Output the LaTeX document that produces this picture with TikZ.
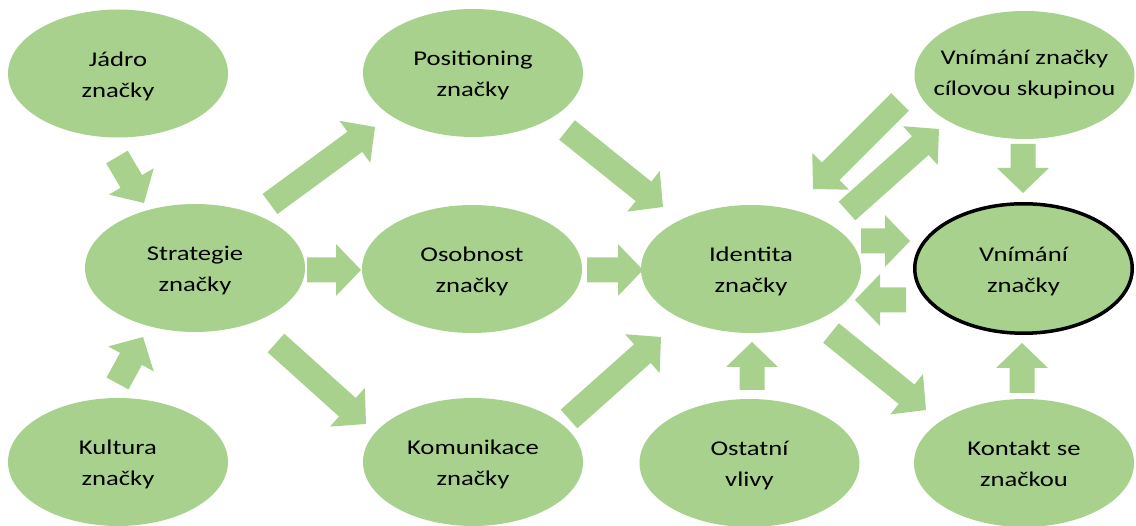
\documentclass[tikz,border=0pt]{standalone}
\usepackage{fontspec}
\setmainfont{Carlito}[FakeStretch=1.27]
\usetikzlibrary{shapes.geometric,calc}
\definecolor{leaf}{HTML}{A9D18E}

% two centred lines with equal struts
\newcommand\twolines[2]{\strut#1\\\strut#2}

% flat block arrow from #1 to #2 (shaft half width 12.5, head half width 26, head length 25)
\newcommand\blockarrow[2]{%
  \coordinate (ba-h) at ($(#2)!25pt!(#1)$);
  \fill[arrowfill] ($(#1)!12.5pt!90:(#2)$) -- ($(ba-h)!12.5pt!-90:(#1)$)
    -- ($(ba-h)!26pt!-90:(#1)$) -- (#2) -- ($(ba-h)!26pt!90:(#1)$)
    -- ($(ba-h)!12.5pt!90:(#1)$) -- ($(#1)!12.5pt!-90:(#2)$) -- cycle;}

\tikzset{
  blob/.style={ellipse, fill=leaf, minimum width=220pt, minimum height=128pt, inner sep=0pt},
  keyblob/.style={ellipse, fill=leaf, draw=black, line width=3.5pt,
    minimum width=217.5pt, minimum height=129.5pt, inner sep=0pt},
  lbl/.style={font=\fontsize{21}{31}\selectfont, align=center, text=black, inner sep=0pt},
  arrowfill/.style={fill=leaf},
}

\begin{document}
\begin{tikzpicture}[x=1pt, y=-1pt]
\useasboundingbox (0,0) rectangle (1136,526);

% ellipses
\node[blob] (jadro) at (118,73.5) {};
\node[blob] (positioning) at (473,73) {};
\node[blob] (cilova) at (1024.5,75) {};
\node[blob] (strategie) at (195,268) {};
\node[blob] (osobnost) at (472,269) {};
\node[blob] (identita) at (751,269) {};
\node[keyblob] (vnimani) at (1023.5,268.5) {};
\node[blob] (kultura) at (118,462) {};
\node[blob] (komunikace) at (473,462) {};
\node[blob] (ostatni) at (749.5,463) {};
\node[blob] (kontakt) at (1024,463) {};

% texts
\node[lbl] (jadro-t) at ($(jadro)+(0,2)$) {\twolines{Jádro}{značky}};
\node[lbl] (positioning-t) at ($(positioning)+(0,2)$) {\twolines{Positioning}{značky}};
\node[lbl] (cilova-t) at ($(cilova)+(0,-1)$) {\twolines{Vnímání značky}{cílovou skupinou}};
\node[lbl] (strategie-t) at ($(strategie)+(0,2)$) {\twolines{Strategie}{značky}};
\node[lbl] (osobnost-t) at ($(osobnost)+(0,2)$) {\twolines{Osobnost}{značky}};
\node[lbl] (identita-t) at ($(identita)+(0,2)$) {\twolines{Identita}{značky}};
\node[lbl] (vnimani-t) at ($(vnimani)+(0,2)$) {\twolines{Vnímání}{značky}};
\node[lbl] (kultura-t) at ($(kultura)+(0,2)$) {\twolines{Kultura}{značky}};
\node[lbl] (komunikace-t) at ($(komunikace)+(0,2)$) {\twolines{Komunikace}{značky}};
\node[lbl] (ostatni-t) at ($(ostatni)+(0,2)$) {\twolines{Ostatní}{vlivy}};
\node[lbl] (kontakt-t) at ($(kontakt)+(0,2)$) {\twolines{Kontakt se}{značkou}};

% arrow end points
\coordinate (a1s) at (117,157);  \coordinate (a1e) at (144,203);
\coordinate (a2s) at (117.5,383.5);  \coordinate (a2e) at (143,337);
\coordinate (a3s) at (270,204);  \coordinate (a3e) at (375,127);
\coordinate (a4s) at (307,270);  \coordinate (a4e) at (361,270);
\coordinate (a5s) at (276,343);  \coordinate (a5e) at (366,424);
\coordinate (a6s) at (567,130);  \coordinate (a6e) at (663,207);
\coordinate (a7s) at (587,270);  \coordinate (a7e) at (643,270);
\coordinate (a8s) at (569,419);  \coordinate (a8e) at (661,337);
\coordinate (a9s) at (752,390);  \coordinate (a9e) at (752,342);
\coordinate (a10s) at (861,241); \coordinate (a10e) at (910,241);
\coordinate (a11s) at (906,300); \coordinate (a11e) at (855,300);
\coordinate (a12s) at (847,211); \coordinate (a12e) at (939,129);
\coordinate (a13s) at (900,102); \coordinate (a13e) at (813,189);
\coordinate (a14s) at (1023,144); \coordinate (a14e) at (1023,193);
\coordinate (a15s) at (831,333); \coordinate (a15e) at (926,410);
\coordinate (a16s) at (1022,393); \coordinate (a16e) at (1022,343);

% block arrows
\blockarrow{a1s}{a1e}
\blockarrow{a2s}{a2e}
\blockarrow{a3s}{a3e}
\blockarrow{a4s}{a4e}
\blockarrow{a5s}{a5e}
\blockarrow{a6s}{a6e}
\blockarrow{a7s}{a7e}
\blockarrow{a8s}{a8e}
\blockarrow{a9s}{a9e}
\blockarrow{a10s}{a10e}
\blockarrow{a11s}{a11e}
\blockarrow{a12s}{a12e}
\blockarrow{a13s}{a13e}
\blockarrow{a14s}{a14e}
\blockarrow{a15s}{a15e}
\blockarrow{a16s}{a16e}
\end{tikzpicture}
\end{document}
